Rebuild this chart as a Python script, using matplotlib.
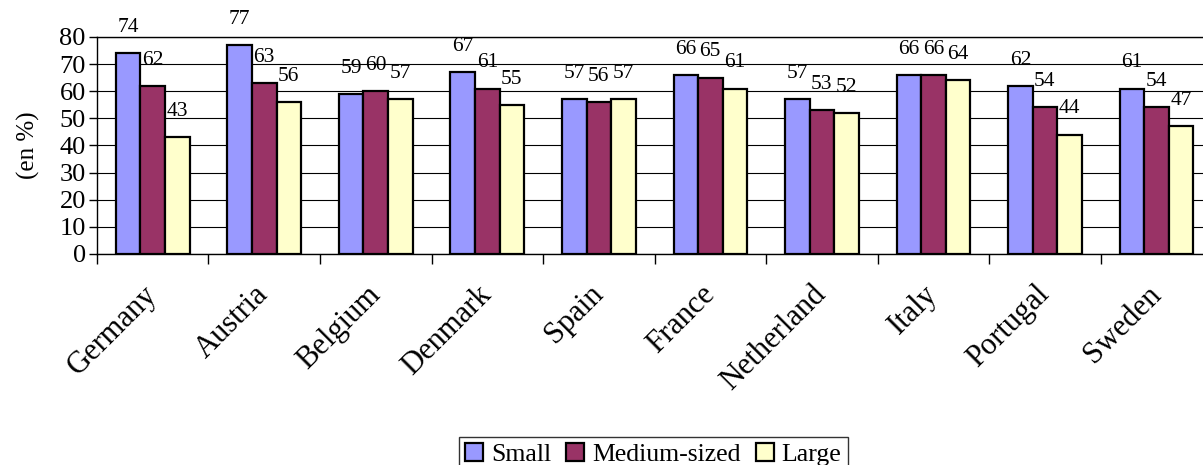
import numpy as np
import matplotlib
matplotlib.use("Agg")
import matplotlib.pyplot as plt

plt.rcParams['font.family'] = ['Liberation Serif', 'DejaVu Serif']

countries = ['Germany', 'Austria', 'Belgium', 'Denmark', 'Spain',
             'France', 'Netherland', 'Italy', 'Portugal', 'Sweden']
small = [74, 77, 59, 67, 57, 66, 57, 66, 62, 61]
medium = [62, 63, 60, 61, 56, 65, 53, 66, 54, 54]
large = [43, 56, 57, 55, 57, 61, 52, 64, 44, 47]
series_names = ['Small', 'Medium-sized', 'Large']
colors = ['#9999FF', '#993366', '#FFFFCC']

fig = plt.figure(figsize=(12.03, 4.65), dpi=100)
ax = fig.add_axes([0.0806, 0.4538, 0.927, 0.4667])

x = np.arange(len(countries))
width = 0.22  # gap width ~150% of a bar
for i, (vals, name, col) in enumerate(zip([small, medium, large], series_names, colors)):
    pos = x + (i - 1) * width
    ax.bar(pos, vals, width=width, color=col, edgecolor='black', linewidth=1.6,
           label=name, zorder=3)
    for px, v in zip(pos, vals):
        ax.text(px, v + 9.5, str(v), ha='center', va='center', fontsize=15.5,
                zorder=4, clip_on=False)

ax.set_xlim(-0.5, len(countries) - 0.5)
ax.set_ylim(0, 80)
ax.set_yticks(range(0, 81, 10))
ax.tick_params(axis='y', labelsize=19, length=6, width=1, direction='out', pad=2)
ax.yaxis.grid(True, color='black', linewidth=0.8, zorder=0)
ax.set_axisbelow(True)

# category ticks sit between groups, labels at the group centres
ax.set_xticks(np.arange(len(countries) + 1) - 0.5)
ax.set_xticklabels([])
ax.set_xticks(x, minor=True)
ax.set_xticklabels(countries, minor=True, rotation=45, ha='right', va='center',
                   rotation_mode='anchor', fontsize=22)
ax.tick_params(axis='x', which='major', length=7, width=1, direction='out')
ax.tick_params(axis='x', which='minor', length=0, pad=26)

for s in ax.spines.values():
    s.set_linewidth(1)
ax.set_ylabel('(en %)', fontsize=18, labelpad=14)

fig.legend(loc='upper center', bbox_to_anchor=(0.543, 0.088), ncol=3,
           fontsize=18.5, frameon=True, fancybox=False, edgecolor='black',
           handlelength=0.7, handleheight=0.7, handletextpad=0.3,
           columnspacing=0.6, borderpad=0.25)

fig.savefig('out.png', dpi=100)
